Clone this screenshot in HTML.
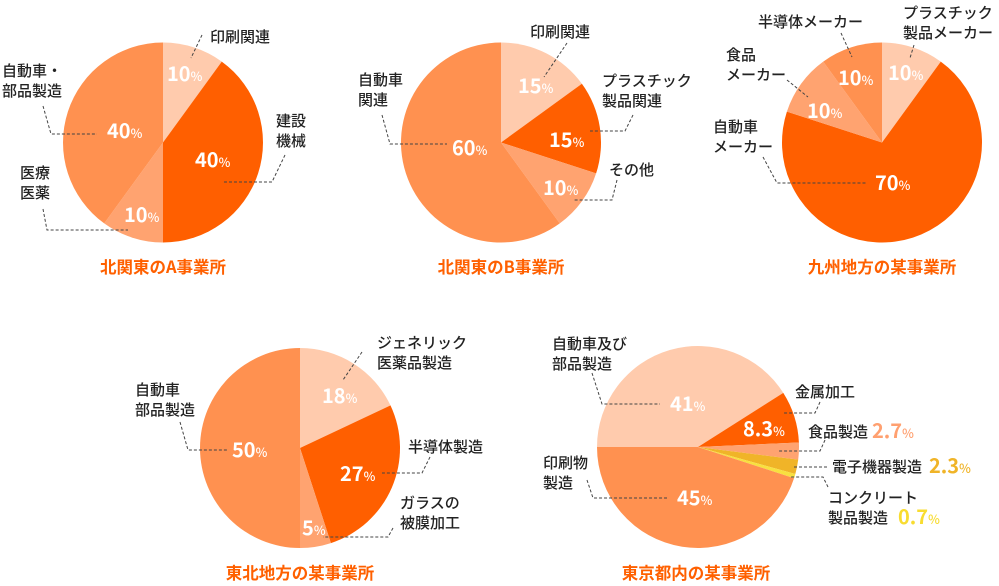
<!DOCTYPE html>
<html><head><meta charset="utf-8"><style>
html,body{margin:0;padding:0;background:#fff;width:999px;height:586px;overflow:hidden}
svg{display:block}
text{font-family:"Noto Sans CJK JP","Liberation Sans",sans-serif}
.l{font-size:15px;font-weight:500;fill:#222}
.p{font-size:20px;font-weight:700;fill:#fff}
.p tspan{font-size:12.5px;font-weight:500}
.t{font-size:16.5px;font-weight:700;fill:#FF6000;text-anchor:middle}
.d{fill:none;stroke:#444;stroke-width:1;stroke-dasharray:3 2}
</style></head><body>
<svg id="s" width="999" height="586" viewBox="0 0 999 586" xmlns="http://www.w3.org/2000/svg">
<g id="pies"></g>
<!-- Chart 1 -->
<polyline class="d" points="202,35 191,58"/>
<polyline class="d" points="43,106 51,134 97,134"/>
<polyline class="d" points="285,155 272,182 222,182"/>
<polyline class="d" points="43,209 47,230 128,230"/>
<text class="l" x="210" y="42">印刷関連</text>
<text class="l" x="2" y="76">自動車・</text>
<text class="l" x="2" y="96">部品製造</text>
<text class="l" x="276" y="126">建設</text>
<text class="l" x="276" y="146">機械</text>
<text class="l" x="20" y="178">医療</text>
<text class="l" x="20" y="198">医薬</text>
<text class="p" x="167" y="81">10<tspan>%</tspan></text>
<text class="p" x="195" y="167">40<tspan>%</tspan></text>
<text class="p" x="124" y="222">10<tspan>%</tspan></text>
<text class="p" x="107" y="138">40<tspan>%</tspan></text>
<text class="t" x="163" y="273">北関東のA事業所</text>
<!-- Chart 2 -->
<polyline class="d" points="567,43 544,77"/>
<polyline class="d" points="382,115 390,144 447,144"/>
<polyline class="d" points="633,115 625,131 590,131"/>
<polyline class="d" points="617,180 612,200 573,200"/>
<text class="l" x="530" y="37">印刷関連</text>
<text class="l" x="358" y="85">自動車</text>
<text class="l" x="358" y="105">関連</text>
<text class="l" x="602" y="86">プラスチック</text>
<text class="l" x="602" y="106">製品関連</text>
<text class="l" x="609" y="175">その他</text>
<text class="p" x="518" y="93">15<tspan>%</tspan></text>
<text class="p" x="549" y="147">15<tspan>%</tspan></text>
<text class="p" x="543" y="195">10<tspan>%</tspan></text>
<text class="p" x="452" y="155">60<tspan>%</tspan></text>
<text class="t" x="501" y="273">北関東のB事業所</text>
<!-- Chart 3 -->
<polyline class="d" points="914,45 910,58"/>
<polyline class="d" points="841,33 852,57"/>
<polyline class="d" points="787,80 808,97"/>
<polyline class="d" points="763,157 777,183 867,183"/>
<text class="l" x="903" y="18">プラスチック</text>
<text class="l" x="903" y="38">製品メーカー</text>
<text class="l" x="758" y="27">半導体メーカー</text>
<text class="l" x="726" y="60">食品</text>
<text class="l" x="726" y="80">メーカー</text>
<text class="l" x="713" y="132">自動車</text>
<text class="l" x="713" y="152">メーカー</text>
<text class="p" x="888" y="80">10<tspan>%</tspan></text>
<text class="p" x="838" y="85">10<tspan>%</tspan></text>
<text class="p" x="807" y="118">10<tspan>%</tspan></text>
<text class="p" x="875" y="190">70<tspan>%</tspan></text>
<text class="t" x="882" y="273">九州地方の某事業所</text>
<!-- Chart 4 -->
<polyline class="d" points="362,352 343,380"/>
<polyline class="d" points="180,422 188,450 227,450"/>
<polyline class="d" points="430,457 422,473 382,473"/>
<polyline class="d" points="393,528 388,537 323,537"/>
<text class="l" x="377" y="348">ジェネリック</text>
<text class="l" x="377" y="368">医薬品製造</text>
<text class="l" x="135" y="395">自動車</text>
<text class="l" x="135" y="415">部品製造</text>
<text class="l" x="408" y="452">半導体製造</text>
<text class="l" x="400" y="508">ガラスの</text>
<text class="l" x="400" y="528">被膜加工</text>
<text class="p" x="322" y="403">18<tspan>%</tspan></text>
<text class="p" x="340" y="481">27<tspan>%</tspan></text>
<text class="p" x="302" y="535">5<tspan>%</tspan></text>
<text class="p" x="232" y="457">50<tspan>%</tspan></text>
<text class="t" x="300" y="579">東北地方の某事業所</text>
<!-- Chart 5 -->
<polyline class="d" points="592,373 602,404 660,404"/>
<polyline class="d" points="587,480 593,498 667,498"/>
<polyline class="d" points="820,402 815,413 783,413"/>
<polyline class="d" points="825,440 820,451 778,451"/>
<polyline class="d" points="827,467 792,467"/>
<polyline class="d" points="828,487 823,477 790,477"/>
<text class="l" x="552" y="349">自動車及び</text>
<text class="l" x="552" y="369">部品製造</text>
<text class="l" x="543" y="468">印刷物</text>
<text class="l" x="543" y="488">製造</text>
<text class="l" x="795" y="397">金属加工</text>
<text class="l" x="808" y="437">食品製造</text>
<text class="p" x="872" y="438" style="fill:#FFA070">2.7<tspan>%</tspan></text>
<text class="l" x="832" y="472">電子機器製造</text>
<text class="p" x="929" y="473" style="fill:#F0B428">2.3<tspan>%</tspan></text>
<text class="l" x="828" y="503">コンクリート</text>
<text class="l" x="828" y="523">製品製造</text>
<text class="p" x="898" y="524" style="fill:#F8DC30">0.7<tspan>%</tspan></text>
<text class="p" x="670" y="411">41<tspan>%</tspan></text>
<text class="p" x="743" y="436">8.3<tspan>%</tspan></text>
<text class="p" x="677" y="505">45<tspan>%</tspan></text>
<text class="t" x="696" y="579">東京都内の某事業所</text>
</svg>
<script>
var L='#FFCBAD',D='#FF5F00',M='#FFA370',B='#FF9150',G='#F0B428',Y='#F8E040';
var pies=[
 [163,142.5,100,0,[[10,L],[40,D],[10,M],[40,B]]],
 [501,142.5,100,0,[[15,L],[15,D],[10,M],[60,B]]],
 [882,142.5,100,0,[[10,L],[70,D],[10,M],[10,B]]],
 [300,448,100,0,[[18,L],[27,D],[5,M],[50,B]]],
 [698,447,101,270,[[41,L],[8.3,D],[2.7,M],[2.3,G],[0.7,Y],[45,B]]]
];
var g=document.getElementById('pies'),ns='http://www.w3.org/2000/svg';
pies.forEach(function(p){
 var cx=p[0],cy=p[1],r=p[2],a=p[3];
 p[4].forEach(function(s){
  var a2=a+s[0]*3.6;
  function pt(d){var t=(d-90)*Math.PI/180;return [cx+r*Math.cos(t),cy+r*Math.sin(t)];}
  var p1=pt(a),p2=pt(a2);
  var e=document.createElementNS(ns,'path');
  e.setAttribute('d','M'+cx+','+cy+'L'+p1[0]+','+p1[1]+'A'+r+','+r+' 0 '+((a2-a)>180?1:0)+' 1 '+p2[0]+','+p2[1]+'Z');
  e.setAttribute('fill',s[1]);
  g.appendChild(e);
  a=a2;
 });
});
</script>
</body></html>
